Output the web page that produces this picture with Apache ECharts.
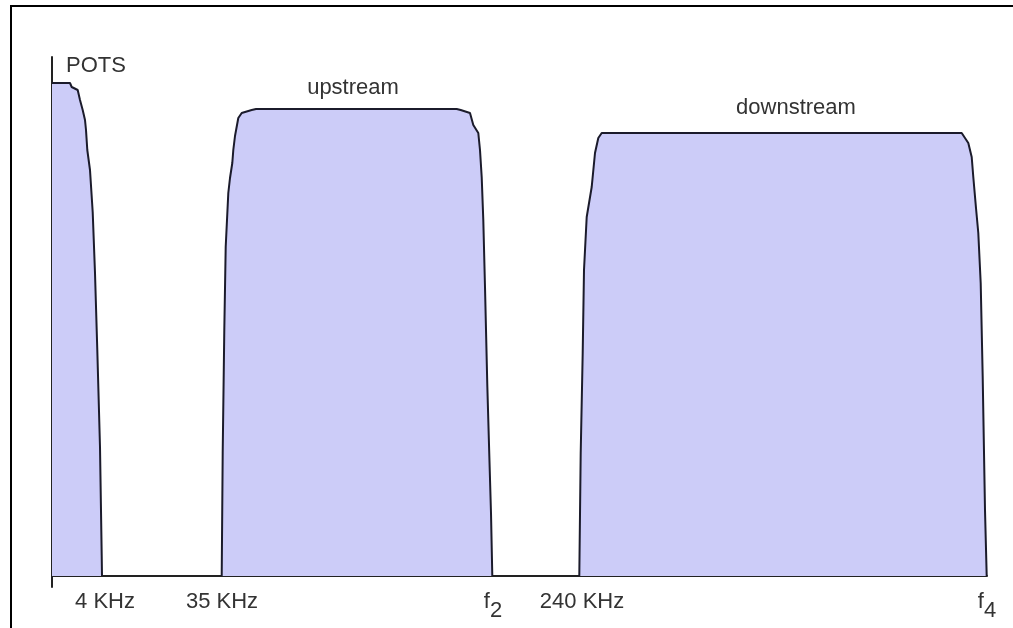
<!DOCTYPE html>
<html>
<head>
<meta charset="utf-8">
<script src="https://cdn.jsdelivr.net/npm/echarts@6/dist/echarts.min.js"></script>
<style>
html,body{margin:0;padding:0;background:#fff;}
#chart{width:1013px;height:628px;}
</style>
</head>
<body>
<div id="chart"></div>
<script>
// Band outlines: [position along frequency axis, level] (abstract units)
var potsBand = [[0,493],[18,493],[19.7,489],[25.7,486],[28,476],[30.7,466],[33,456],[34,446],[35.3,426],[38,406],[40.7,364],[43,303],[45.3,226],[48,129],[49.7,21],[50,0]];
var upstreamBand = [[169.7,0],[170.7,123],[172.3,246],[173.7,329],[176.3,383],[178,398],[180.3,413],[181.3,426],[183,440],[186.3,458],[189.7,463],[199.7,466],[204,467],[404.7,467],[408.7,466],[418,463],[421.3,451],[426.3,443],[428,426],[429.7,399],[431.3,356],[433,289],[435.3,191],[437.3,121],[439,63],[440.3,0]];
var downstreamBand = [[527.3,0],[528.7,123],[530.7,223],[532,306],[534.7,359],[539.7,389],[543,423],[546.3,438],[549.7,443],[909.7,443],[916.3,433],[919.7,419],[921.3,399],[924,368],[926.3,343],[928.7,293],[930.7,199],[933,66],[934.7,0]];

var bandNames = ['POTS', 'upstream', 'downstream'];
var bandLabelAt = [[14,510],[301,488],[744,468]];

var tickValues = [53, 170, 441, 530, 935];
var tickLabels = ['4 KHz', '35 KHz', '{f|f}{s|2}', '240 KHz', '{f|f}{s|4}'];

var FONT = '"Liberation Sans", Arial, sans-serif';
var lineColor = '#1b1b2b';
var fillColor = '#ccccf8';

function bandSeries(name, data, labelPos, align) {
  return {
    type: 'line',
    name: name,
    data: data,
    showSymbol: false,
    symbol: 'none',
    silent: true,
    lineStyle: { color: lineColor, width: 2 },
    areaStyle: { color: fillColor, opacity: 1 },
    markPoint: {
      symbol: 'circle',
      symbolSize: 0,
      silent: true,
      data: [{
        coord: labelPos,
        label: {
          show: true,
          formatter: name,
          position: 'inside',
          align: align,
          verticalAlign: 'middle',
          color: '#333',
          fontFamily: FONT,
          fontSize: 22
        }
      }]
    }
  };
}

var chart = echarts.init(document.getElementById('chart'), null, { renderer: 'canvas' });
chart.setOption({
  animation: false,
  backgroundColor: '#fff',
  grid: { left: 52, right: 26, top: 57, bottom: 41, containLabel: false },
  xAxis: {
    type: 'value',
    min: 0,
    max: 935,
    axisLine: { show: true, onZero: true, lineStyle: { color: '#222', width: 2 } },
    axisTick: { show: false },
    splitLine: { show: false },
    axisLabel: {
      customValues: tickValues,
      margin: 4,
      color: '#333',
      fontFamily: FONT,
      fontSize: 22,
      formatter: function (v) {
        var i = tickValues.indexOf(v);
        return i >= 0 ? tickLabels[i] : '';
      },
      rich: {
        f: { fontFamily: FONT, fontSize: 22, color: '#333', verticalAlign: 'top' },
        s: { fontFamily: FONT, fontSize: 22, color: '#333', verticalAlign: 'top', padding: [9, 0, 0, 0] }
      }
    }
  },
  yAxis: {
    type: 'value',
    min: -11,
    max: 519,
    axisLine: { show: true, lineStyle: { color: '#222', width: 2 } },
    axisTick: { show: false },
    axisLabel: { show: false },
    splitLine: { show: false }
  },
  graphic: [
    { type: 'line', shape: { x1: 10, y1: 6, x2: 1013, y2: 6 }, style: { stroke: '#000', lineWidth: 2 }, silent: true },
    { type: 'line', shape: { x1: 11, y1: 5, x2: 11, y2: 628 }, style: { stroke: '#000', lineWidth: 2 }, silent: true }
  ],
  series: [
    bandSeries(bandNames[0], potsBand, bandLabelAt[0], 'left'),
    bandSeries(bandNames[1], upstreamBand, bandLabelAt[1], 'center'),
    bandSeries(bandNames[2], downstreamBand, bandLabelAt[2], 'center')
  ]
});
</script>
</body>
</html>
